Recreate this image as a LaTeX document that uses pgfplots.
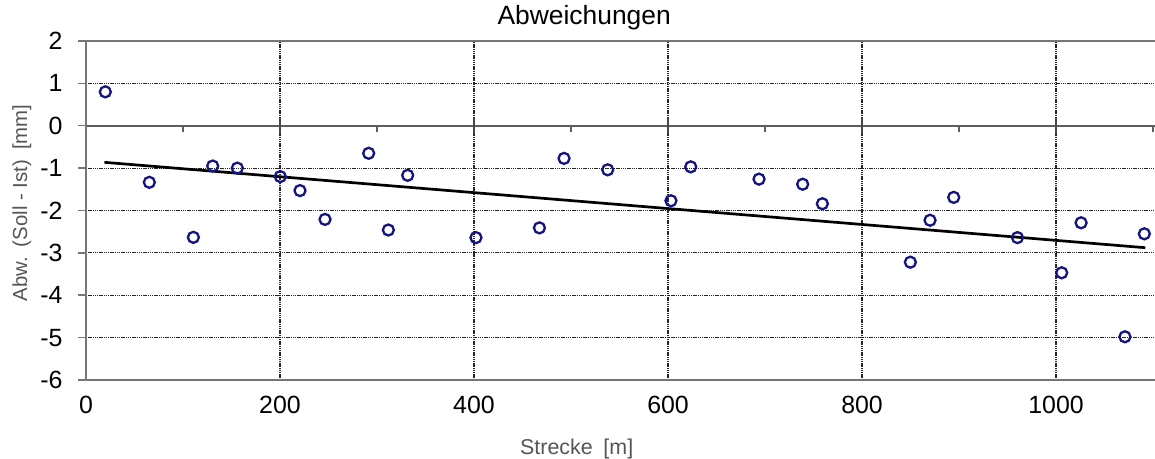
\documentclass[border=0pt]{standalone}
\usepackage{fontspec}
\setmainfont{Liberation Sans}
\usepackage{pgfplots}
\pgfplotsset{compat=1.18}
\definecolor{mk}{RGB}{20,20,130}
\definecolor{ax}{RGB}{118,118,118}
\definecolor{lab}{RGB}{85,85,85}
\begin{document}
\begin{tikzpicture}
\begin{axis}[
  scale only axis, width=1069bp, height=339bp,
  xmin=0, xmax=1102, ymin=-6, ymax=2,
  axis line style={draw=none},
  xtick={0,200,...,1000}, ytick={-6,...,2},
  xticklabels={0,200,400,600,800,1000},
  yticklabels={-6,-5,-4,-3,-2,-1,0,1,2},
  tick align=outside, major tick length=8bp,
  x tick style={draw=none},
  y tick style={ax, line width=1.5bp},
  grid=major,
  grid style={black!85, line width=1.2bp, dash pattern=on 1.4bp off 0.8bp},
  tick label style={font=\fontsize{25}{25}\selectfont},
  xticklabel style={yshift=-5bp},
  yticklabel style={xshift=-12bp},
  title={Abweichungen},
  title style={at={(0.466,1.05)}, anchor=center, font=\fontsize{26.5}{26.5}\selectfont},
  xlabel={Strecke\hspace{0.5em}[m]},
  xlabel style={at={(0.459,-0.2035)}, anchor=center, font=\fontsize{21.5}{21.5}\selectfont, text=lab},
  ylabel={Abw.\hspace{0.5em}(Soll - Ist)\hspace{0.5em}[mm]},
  ylabel style={at={(-0.0599,0.522)}, anchor=center, rotate=0, font=\fontsize{20.4}{20.4}\selectfont, text=lab},
  clip=false,
]
\draw[ax!80!black, line width=1.8bp] (axis cs:0,0) -- (axis cs:1102,0);
\pgfplotsinvokeforeach{100,300,...,1100}{\draw[ax!80!black, line width=1.3bp] (axis cs:#1,0) -- ([yshift=-6bp]axis cs:#1,0);}
\pgfplotsinvokeforeach{200,400,...,1000}{\draw[ax!60!black, line width=1.6bp] ([yshift=-8bp]axis cs:#1,0) -- ([yshift=8bp]axis cs:#1,0);}
\draw[ax, line width=2.5bp] (rel axis cs:1,1) -- (rel axis cs:0,1) -- (rel axis cs:0,0) -- (rel axis cs:1,0);
\addplot[only marks, mark=o, mark size=5.5bp, mark options={draw=mk, line width=2.3bp, fill=white}] coordinates {
(19.9,0.80) (65.3,-1.335) (110.7,-2.633) (130.6,-0.95) (156,-1.00)
(200.3,-1.20) (220.6,-1.53) (246.4,-2.21) (291.4,-0.65) (311.7,-2.46)
(331.6,-1.17) (402,-2.64) (467.4,-2.41) (492.8,-0.77) (537.8,-1.04)
(603,-1.77) (623.4,-0.97) (693.8,-1.26) (738.8,-1.38) (759.1,-1.84)
(849.8,-3.22) (870.1,-2.23) (894.5,-1.69) (960.2,-2.64) (1005.8,-3.47)
(1025.8,-2.29) (1071,-4.98) (1091,-2.55)
};
\addplot[black, line width=2.7bp] coordinates {(19,-0.863) (1092,-2.878)};
\end{axis}
\pgfresetboundingbox
\path[use as bounding box] (-86bp,-79bp) rectangle (1069bp,380bp);
\end{tikzpicture}
\end{document}
